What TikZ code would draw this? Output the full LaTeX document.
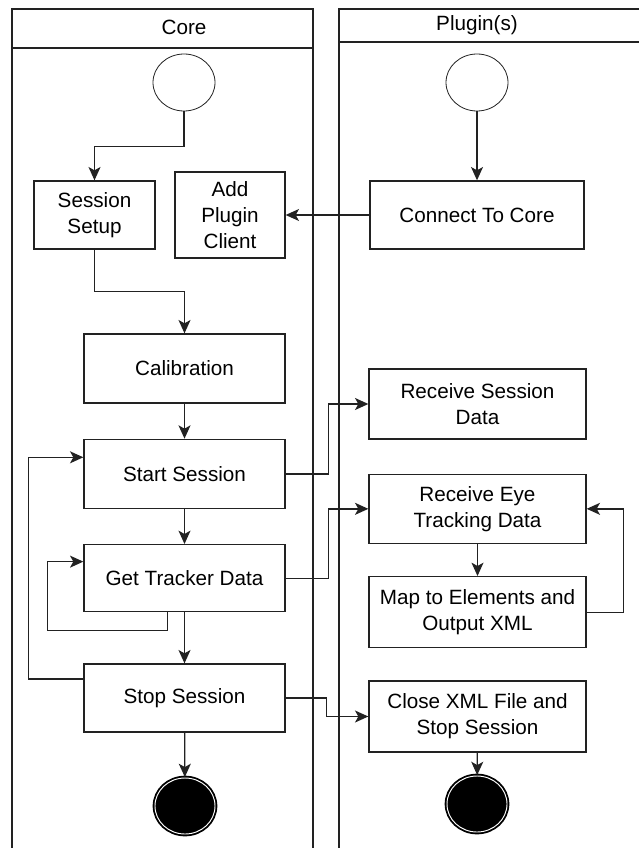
\documentclass[tikz,border=0pt]{standalone}
\usepackage{fontspec}
\setmainfont{Liberation Sans}
\definecolor{lnline}{HTML}{222222}
\usetikzlibrary{shapes.geometric, arrows.meta, positioning}

\begin{document}
\begin{tikzpicture}[
  x=0.75pt, y=-0.75pt,
  font=\fontsize{15.5}{19.5}\selectfont,
  lane/.style={draw=lnline, line width=0.9pt},
  act/.style={rectangle, draw=lnline, fill=white, line width=1pt,
              align=center, inner sep=2pt},
  startdot/.style={ellipse, draw=lnline, fill=white, line width=0.6pt,
                   minimum width=46.5pt, minimum height=42.75pt},
  enddot/.style={ellipse, fill=black, draw=black, line width=1.4pt,
                 double=white, double distance=0.7pt,
                 minimum width=45pt, minimum height=42pt},
  arr/.style={-{Stealth[length=10pt, width=9pt, inset=2.5pt]},
              line width=1pt, draw=lnline}
]
  \useasboundingbox (0,0) rectangle (639,848);

  % swimlanes
  \draw[lane] (12,848) -- (12,9) -- (313,9) -- (313,848);
  \draw[lane] (12,48) -- (313,48);
  \node (corehead) at (184,27) {Core};
  \draw[lane] (339,848) -- (339,9) -- (639,9);
  \draw[lane] (339,42) -- (639,42);
  \node (plughead) at (477,25) {Plugin(s)};

  % core lane
  \node[startdot] (cstart) at (184,82.5) {};
  \node[act, minimum width=90.75pt, minimum height=51pt]
    (setup) at (94.5,215) {Session\\Setup};
  \node[act, minimum width=82.5pt, minimum height=64.5pt]
    (addplug) at (230,215) {Add\\Plugin\\Client};
  \node[act, minimum width=150.75pt, minimum height=51.75pt]
    (calib) at (184.5,368.5) {Calibration};
  \node[act, minimum width=150.75pt, minimum height=51.75pt,
        below=26.25pt of calib] (start) {Start Session};
  \node[act, minimum width=150.75pt, minimum height=50.25pt,
        below=26.25pt of start] (get) {Get Tracker Data};
  \node[act, minimum width=150.75pt, minimum height=51pt,
        below=38.25pt of get] (stop) {Stop Session};
  \node[enddot] (cend) at (185,806) {};

  % plugin lane
  \node[startdot] (pstart) at (477,82.5) {};
  \node[act, minimum width=160.5pt, minimum height=51pt]
    (connect) at (477,215) {Connect To Core};
  \node[act, minimum width=162.75pt, minimum height=52.5pt]
    (recvs) at (477.5,404) {Receive Session\\Data};
  \node[act, minimum width=162.75pt, minimum height=51.75pt,
        below=25.5pt of recvs] (recveye) {Receive Eye\\Tracking Data};
  \node[act, minimum width=162.75pt, minimum height=53.25pt,
        below=24pt of recveye] (map) {Map to Elements and\\Output XML};
  \node[act, minimum width=162.75pt, minimum height=53.25pt,
        below=24pt of map] (close) {Close XML File and\\Stop Session};
  \node[enddot] (pend) at (477,804) {};

  \draw[arr] (cstart.south) -- ++(0,35) -| (setup.north);
  \draw[arr] (pstart) -- (connect);
  \draw[arr] (connect) -- (addplug);
  \draw[arr] (setup.south) -- ++(0,42) -| (calib.north);
  \draw[arr] (calib) -- (start);
  \draw[arr] (start) -- (get);
  \draw[arr] (get) -- (stop);
  \draw[arr] (stop) -- (cend);
  \draw[arr] ([xshift=-12.75pt]get.south) -- ++(0,18) -- ++(-120,0)
    |- ([yshift=12.4pt]get.west);
  \draw[arr] ([yshift=14.25pt]stop.west) -- ++(-55,0)
    |- ([yshift=12.4pt]start.west);

  \draw[arr] (start.east) -- ++(43,0) |- (recvs.west);
  \draw[arr] (get.east) -- ++(43,0) |- (recveye.west);
  \draw[arr] (stop.east) -- ++(41,0) |- (close.west);
  \draw[arr] (recveye) -- (map);
  \draw[arr] (map.east) -- ++(37,0) |- (recveye.east);
  \draw[arr] (close) -- (pend);
\end{tikzpicture}
\end{document}
